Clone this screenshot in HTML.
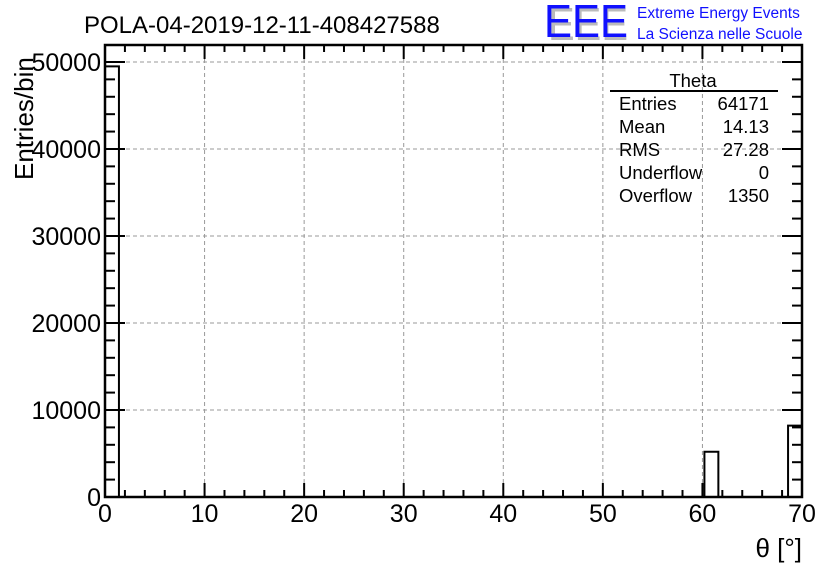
<!DOCTYPE html>
<html><head><meta charset="utf-8"><style>
html,body{margin:0;padding:0;background:#fff;}
svg{display:block;font-family:"Liberation Sans",sans-serif;}
</style></head><body>
<svg id="chart" width="836" height="572" xmlns="http://www.w3.org/2000/svg">
<rect width="836" height="572" fill="#fff"/>
<g id="grid"></g>
<g id="bars"></g>
<g id="axes"></g>
<text x="84" y="33" font-size="24">POLA-04-2019-12-11-408427588</text>
<g>
<text x="548" y="40" font-size="46" fill="#bbb" textLength="80" lengthAdjust="spacingAndGlyphs">EEE</text>
<text x="544" y="37" font-size="46" fill="#1010ff" textLength="84" lengthAdjust="spacingAndGlyphs">EEE</text>
<text x="637" y="18" font-size="15.5" fill="#1010ff">Extreme Energy Events</text>
<text x="637" y="39" font-size="15.5" fill="#1010ff">La Scienza nelle Scuole</text>
</g>
<text x="33" y="180" font-size="26" transform="rotate(-90 33 180)">Entries/bin</text>
<text x="802" y="557" font-size="26" text-anchor="end">θ [°]</text>
<g font-size="18.5">
<text x="693" y="87" text-anchor="middle">Theta</text>
<line x1="610" y1="91" x2="778" y2="91" stroke="#000" stroke-width="2"/>
<text x="619" y="110">Entries</text><text x="769" y="110" text-anchor="end">64171</text>
<text x="619" y="133">Mean</text><text x="769" y="133" text-anchor="end">14.13</text>
<text x="619" y="156">RMS</text><text x="769" y="156" text-anchor="end">27.28</text>
<text x="619" y="179">Underflow</text><text x="769" y="179" text-anchor="end">0</text>
<text x="619" y="202">Overflow</text><text x="769" y="202" text-anchor="end">1350</text>
</g>
</svg>
<script>
const binEdgesStart = 0;
const binWidth = 1.4;
const counts = [49500,0,0,0,0,0,0,0,0,0,0,0,0,0,0,0,0,0,0,0,0,0,0,0,0,0,0,0,0,0,0,0,0,0,0,0,0,0,0,0,0,0,0,5200,0,0,0,0,0,8200];
const xTicks = [0,10,20,30,40,50,60,70];
const yTicks = [0,10000,20000,30000,40000,50000];
const xMin=0,xMax=70,yMin=0,yMax=51950;
const L=105,R=802,T=45,B=497;
const sx=v=>L+(v-xMin)/(xMax-xMin)*(R-L);
const sy=v=>B-(v-yMin)/(yMax-yMin)*(B-T);
const NS="http://www.w3.org/2000/svg";
function mk(tag,attrs,parent){const e=document.createElementNS(NS,tag);for(const k in attrs)e.setAttribute(k,attrs[k]);parent.appendChild(e);return e;}
const grid=document.getElementById('grid'),bars=document.getElementById('bars'),axes=document.getElementById('axes');
xTicks.forEach(v=>{if(v>xMin&&v<xMax){const l=mk('line',{x1:sx(v),x2:sx(v),y1:T,y2:B,stroke:'#999','stroke-dasharray':'4,3'},grid);

}});
yTicks.forEach(v=>{if(v>yMin){const l=mk('line',{x1:L,x2:R,y1:sy(v),y2:sy(v),stroke:'#999','stroke-dasharray':'4,3'},grid);

}});
let d='M'+sx(binEdgesStart)+','+sy(0);
counts.forEach((c,i)=>{const x0=sx(binEdgesStart+i*binWidth),x1=sx(binEdgesStart+(i+1)*binWidth);d+=' L'+x0+','+sy(c)+' L'+x1+','+sy(c);});
d+=' L'+sx(xMax)+','+sy(0);
const p=mk('path',{d:d,fill:'none',stroke:'#000','stroke-width':2},bars);


const fr=mk('rect',{x:L,y:T,width:R-L,height:B-T,fill:'none',stroke:'#000','stroke-width':2.5},axes);


for(let v=xMin;v<=xMax;v+=2){const maj=v%10===0;const len=maj?14:7;
mk('line',{x1:sx(v),x2:sx(v),y1:B,y2:B-len,stroke:'#000','stroke-width':2},axes);
mk('line',{x1:sx(v),x2:sx(v),y1:T,y2:T+len,stroke:'#000','stroke-width':2},axes);}
for(let v=0;v<=yMax;v+=2000){const maj=v%10000===0;const len=maj?20:10;
mk('line',{x1:L,x2:L+len,y1:sy(v),y2:sy(v),stroke:'#000','stroke-width':2},axes);
mk('line',{x1:R,x2:R-len,y1:sy(v),y2:sy(v),stroke:'#000','stroke-width':2},axes);}
xTicks.forEach(v=>{const t=mk('text',{x:sx(v),y:522,'font-size':25,'text-anchor':'middle'},axes);t.textContent=v;

});
yTicks.forEach(v=>{const t=mk('text',{x:101,y:sy(v)+9,'font-size':25,'text-anchor':'end'},axes);t.textContent=v;

});
</script>
</body></html>
